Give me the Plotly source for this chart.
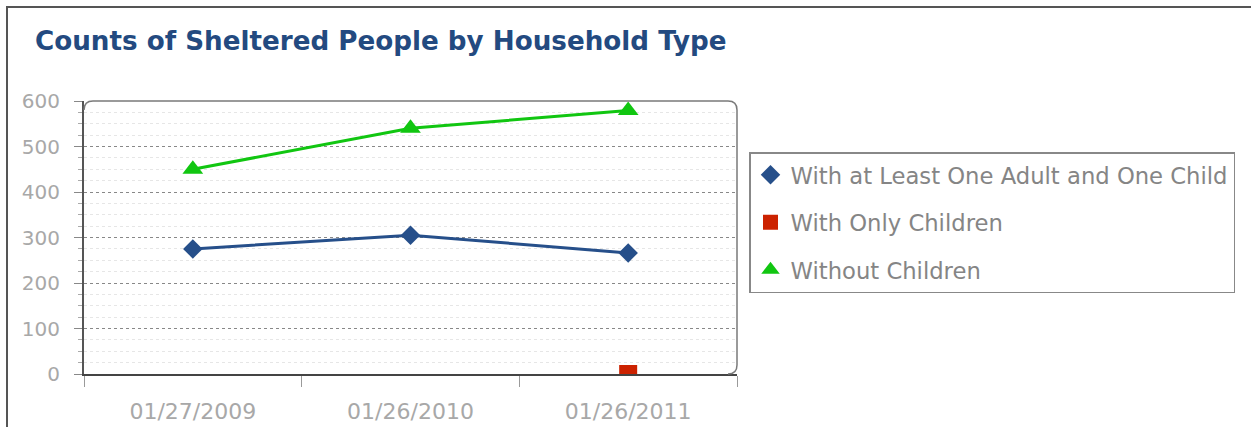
import plotly.graph_objects as go

dates = ["01/27/2009", "01/26/2010", "01/26/2011"]
adult_child = [275, 305, 266]
only_children = [None, None, 0]
without_children = [450, 540, 579]

series_names = ["With at Least One Adult and One Child", "With Only Children", "Without Children"]
series_colors = ["#264F8A", "#CC2200", "#11C611"]
series_symbols = ["diamond", "square", "triangle-up"]
y_ticks = [0, 100, 200, 300, 400, 500, 600]

W, H = 1251, 427
L, R, T, B = 84, 737, 101, 374

fig = go.Figure()
all_vals = [adult_child, only_children, without_children]
sizes = [15, 18, 18]
legend_sizes = [15, 15, 17]
for i, vals in enumerate(all_vals):
    fig.add_trace(go.Scatter(
        x=dates, y=vals, mode="lines+markers", name=series_names[i],
        line=dict(color=series_colors[i], width=3),
        marker=dict(symbol=series_symbols[i], size=sizes[i], color=series_colors[i]),
        showlegend=False, cliponaxis=True,
    ))
for i in range(3):
    fig.add_trace(go.Scatter(
        x=[None], y=[None], mode="markers", name=series_names[i],
        marker=dict(symbol=series_symbols[i], size=legend_sizes[i], color=series_colors[i]),
        legendgroup=str(i), showlegend=True,
    ))

def px_x(p):
    return (p - L) / (R - L)

def px_y(p):
    return (B - p) / (B - T)

# rounded plot border (top and right)
r = 9
path = (f"M {px_x(L)},{px_y(T+r)} Q {px_x(L)},{px_y(T)} {px_x(L+r)},{px_y(T)} "
        f"L {px_x(R-r)},{px_y(T)} Q {px_x(R)},{px_y(T)} {px_x(R)},{px_y(T+r)} "
        f"L {px_x(R)},{px_y(B-r)} Q {px_x(R)},{px_y(B)} {px_x(R-r)},{px_y(B)}")
shapes = [
    dict(type="path", xref="paper", yref="paper", path=path,
         line=dict(color="#7a7a7a", width=1.5), layer="above"),
    dict(type="rect", xref="paper", yref="paper",
         x0=px_x(7), x1=px_x(1300), y0=px_y(480), y1=px_y(7),
         line=dict(color="#555555", width=2), layer="below"),
]

fig.update_layout(
    width=W, height=H,
    margin=dict(l=L, r=W - R, t=T, b=H - B, pad=0, autoexpand=False),
    paper_bgcolor="white", plot_bgcolor="white",
    title=dict(text="Counts of Sheltered People by Household Type",
               x=35 / W, xanchor="left", y=1 - 41 / H, yanchor="middle",
               font=dict(family="DejaVu Sans", size=26.2, weight="bold", color="#234A80")),
    font=dict(family="DejaVu Sans", color="#A8A8A8"),
    shapes=shapes,
    legend=dict(x=px_x(749), y=px_y(152), xanchor="left", yanchor="top",
                bordercolor="#888888", borderwidth=1.5, bgcolor="white",
                font=dict(family="DejaVu Sans", size=22.7, color="#858585"),
                tracegroupgap=15, itemsizing="trace"),
    xaxis=dict(type="category", categoryorder="array", categoryarray=dates,
               range=[-0.5, 2.5], tickson="boundaries", ticks="outside",
               ticklen=11, tickcolor="#9a9a9a", showgrid=False,
               showline=True, linecolor="#444444", linewidth=2,
               ticklabelstandoff=17, automargin=False,
               tickfont=dict(size=22, color="#A8A8A8")),
    yaxis=dict(range=[0, 600], tickvals=y_ticks, ticks="outside", ticklen=8,
               tickcolor="#888888", showline=True, linecolor="#555555", linewidth=2,
               showgrid=True, gridcolor="#888888", griddash="dot", gridwidth=1,
               ticklabelstandoff=10, automargin=False,
               zeroline=False, tickfont=dict(size=20, color="#A8A8A8"),
               minor=dict(dtick=25, showgrid=True, gridcolor="#E6E6E6", griddash="dot",
                          ticks="outside", ticklen=4, tickcolor="#aaaaaa")),
)

fig.write_html("out.html", config={"displayModeBar": False},
               post_script="document.body.style.margin='0';")
